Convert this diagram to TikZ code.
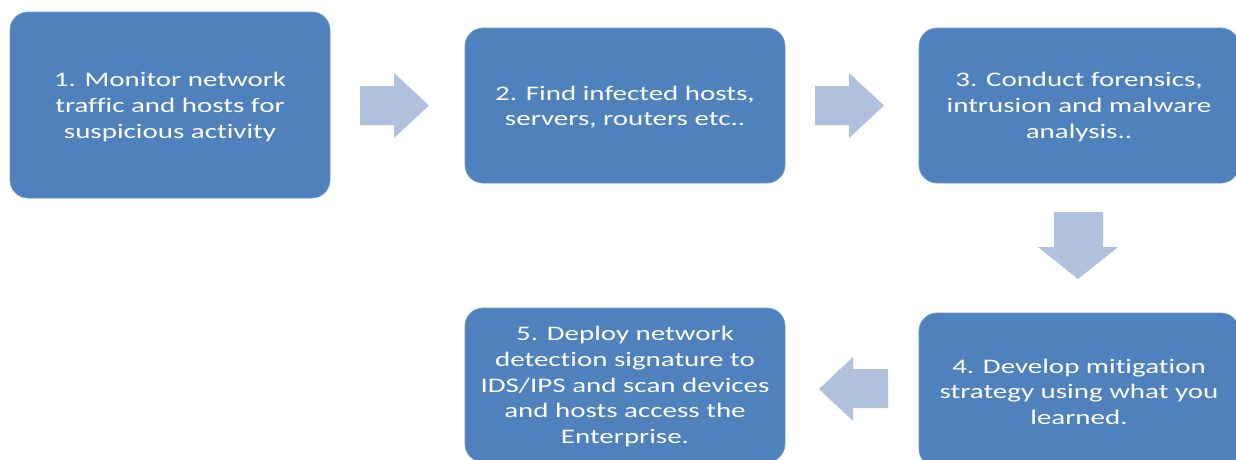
\documentclass[tikz,border=0pt]{standalone}
\usepackage{fontspec}
\setmainfont{Carlito}[FakeStretch=1.4,Ligatures=NoCommon]
\definecolor{boxblue}{RGB}{79,129,189}
\definecolor{boxedge}{RGB}{110,150,200}
\definecolor{arrowblue}{RGB}{176,193,222}
\begin{document}
\begin{tikzpicture}[x=1pt,y=-1pt,
  stepbox/.style={draw=boxedge, line width=0.6pt, fill=boxblue, rounded corners=18pt,
    minimum width=320pt, text=white, align=center, inner sep=0pt,
    font=\fontsize{20.7pt}{25.6pt}\selectfont},
  blockarrow/.style={fill=arrowblue, draw=none}]
\useasboundingbox (0,0) rectangle (1236,459);
\clip (0,0) rectangle (1236,459);
\node[stepbox, minimum height=186pt] (s1) at (170,105) {};
\node[text=white, align=center, font=\fontsize{20.7pt}{25.6pt}\selectfont] (t1) at (170,107) {1. Monitor network\\traffic and hosts for\\suspicious activity};
\node[stepbox, minimum height=155pt] (s2) at (625,105.5) {};
\node[text=white, align=center, font=\fontsize{20.7pt}{25.6pt}\selectfont] (t2) at (625,107) {2. Find infected hosts,\\servers, routers etc..};
\node[stepbox, minimum height=155pt] (s3) at (1079,105.5) {};
\node[text=white, align=center, font=\fontsize{20.7pt}{25.6pt}\selectfont] (t3) at (1079,107) {3. Conduct forensics,\\intrusion and malware\\analysis..};
\node[stepbox, minimum height=154pt] (s4) at (1079,390) {};
\node[text=white, align=center, font=\fontsize{20.7pt}{25.6pt}\selectfont] (t4) at (1079,391.5) {4. Develop mitigation\\strategy using what you\\learned.};
\node[stepbox, minimum height=154pt] (s5) at (625,385) {};
\node[text=white, align=center, font=\fontsize{20.7pt}{25.6pt}\selectfont] (t5) at (625,386.5) {5. Deploy network\\detection signature to\\IDS/IPS and scan devices\\and hosts access the\\Enterprise.};
% block arrows
\fill[blockarrow] (360,86) -- (394,86) -- (394,73) -- (429,105.5) -- (394,138) -- (394,125) -- (360,125) -- cycle;
\fill[blockarrow] (815,86) -- (849,86) -- (849,73) -- (884,105.5) -- (849,138) -- (849,125) -- (815,125) -- cycle;
\fill[blockarrow] (1054,212) -- (1103,212) -- (1103,247) -- (1118,247) -- (1078,279) -- (1038,247) -- (1054,247) -- cycle;
\fill[blockarrow] (888,369) -- (853,369) -- (853,357) -- (819,389) -- (853,421) -- (853,408) -- (888,408) -- cycle;
\end{tikzpicture}
\end{document}
